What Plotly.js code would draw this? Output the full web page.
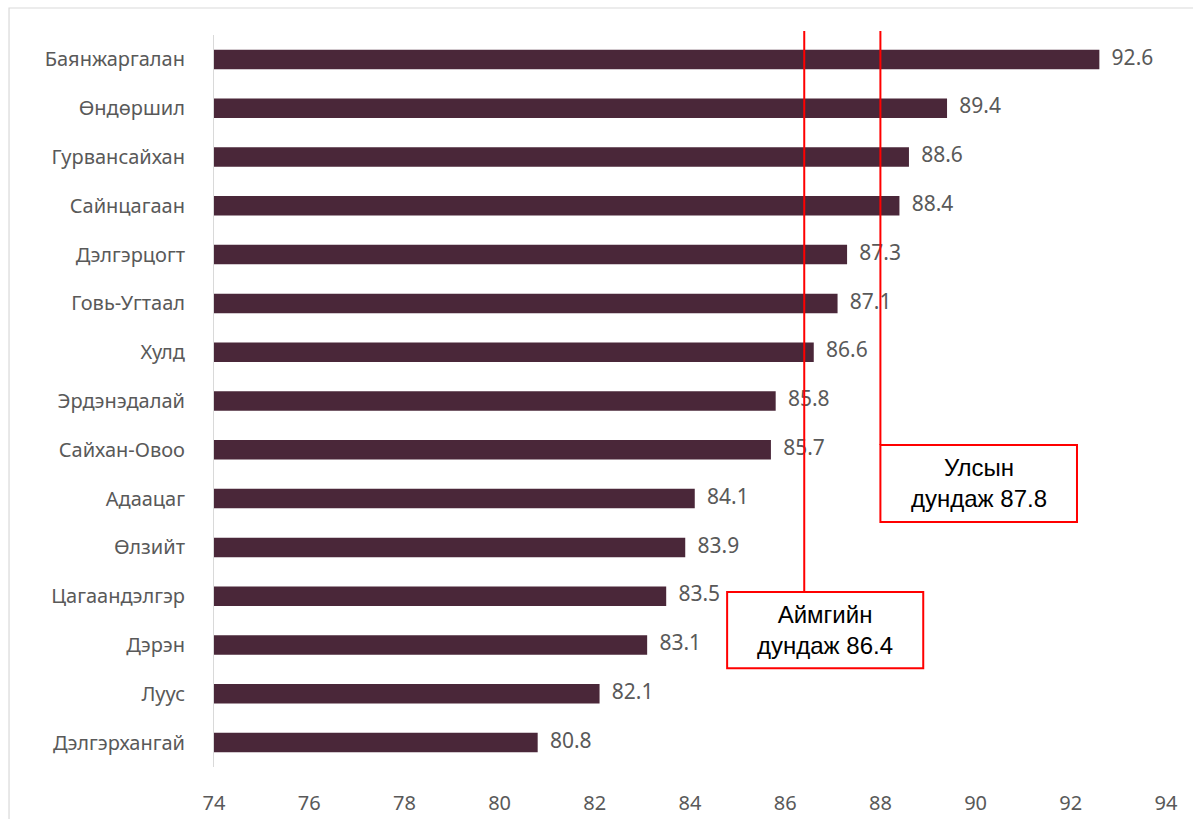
<!DOCTYPE html>
<html>
<head>
<meta charset="utf-8">
<script src="https://cdn.plot.ly/plotly-3.0.1.min.js"></script>
<style>html,body{margin:0;padding:0;background:#fff;}#chart{width:1193px;height:819px;}</style>
</head>
<body>
<div id="chart"></div>
<script>
const categories = ["Баянжаргалан","Өндөршил","Гурвансайхан","Сайнцагаан","Дэлгэрцогт","Говь-Угтаал","Хулд","Эрдэнэдалай","Сайхан-Овоо","Адаацаг","Өлзийт","Цагаандэлгэр","Дэрэн","Луус","Дэлгэрхангай"];
const values = [92.6,89.4,88.6,88.4,87.3,87.1,86.6,85.8,85.7,84.1,83.9,83.5,83.1,82.1,80.8];
const xTicks = [74,76,78,80,82,84,86,88,90,92,94];
const avgNames = ["Аймгийн", "Улсын"];
const avgValues = [86.4, 87.8];
const avgLinePos = [86.4, 88.0]; // as drawn in the picture

const barColor = "#4a2739";
const red = "#ff0000";
const labelFont = {family: "Noto Sans, DejaVu Sans, sans-serif", size: 20, color: "#595959"};
const valueFont = {family: "Noto Sans, DejaVu Sans, sans-serif", size: 21, color: "#595959"};

const traces = [
  {type: "bar", orientation: "h", y: categories, x: values, marker: {color: barColor}, width: 0.4, hoverinfo: "skip"},
  {type: "scatter", mode: "markers+text", y: categories, x: values, text: values.map(v => v.toFixed(1)),
   textposition: "middle right", textfont: valueFont, marker: {size: 18, color: "rgba(0,0,0,0)"}, hoverinfo: "skip", cliponaxis: false}
];

const boxes = [
  {x0: 84.78, x1: 88.9, y0: 0.135, y1: 0.239},
  {x0: 88.0, x1: 92.13, y0: 0.3347, y1: 0.4399}
];

const shapes = [
  {type: "rect", xref: "paper", yref: "paper", x0: -0.2153, x1: 1.04, y0: -0.09, y1: 1.0369, line: {color: "#d9d9d9", width: 1.2}, layer: "below"}
];
const annotations = [];
avgValues.forEach((v, i) => {
  const b = boxes[i];
  shapes.push({type: "line", xref: "x", yref: "paper", x0: avgLinePos[i], x1: avgLinePos[i], y0: b.y1, y1: 1.0055, line: {color: red, width: 2}, layer: "above"});
  shapes.push({type: "rect", xref: "x", yref: "paper", x0: b.x0, x1: b.x1, y0: b.y0, y1: b.y1, line: {color: red, width: 2}, fillcolor: "#ffffff", layer: "above"});
  annotations.push({xref: "x", yref: "paper", x: (b.x0 + b.x1) / 2, y: (b.y0 + b.y1) / 2, text: avgNames[i] + "<br>дундаж " + v.toFixed(1), showarrow: false,
    font: {family: "Liberation Sans, Arial, sans-serif", size: 24, color: "#000000"}, xanchor: "center", yanchor: "middle"});
});

const layout = {
  width: 1193, height: 819,
  margin: {l: 214, r: 27, t: 35, b: 52},
  paper_bgcolor: "#ffffff", plot_bgcolor: "#ffffff",
  showlegend: false,
  bargap: 0.6,
  xaxis: {range: [74, 94], autorange: false, tickvals: xTicks, ticktext: xTicks.map(String), showgrid: false, zeroline: false, showline: false,
    tickfont: labelFont, ticks: "", ticklabelstandoff: 22, fixedrange: true},
  yaxis: {type: "category", categoryorder: "array", categoryarray: categories, autorange: false, range: [categories.length - 0.5, -0.5],
    showgrid: false, zeroline: false, showline: true, linecolor: "#d9d9d9", linewidth: 1, ticks: "",
    tickfont: labelFont, ticklabelstandoff: 24, fixedrange: true},
  shapes: shapes,
  annotations: annotations
};

Plotly.newPlot("chart", traces, layout, {displayModeBar: false, staticPlot: true});
</script>
</body>
</html>
